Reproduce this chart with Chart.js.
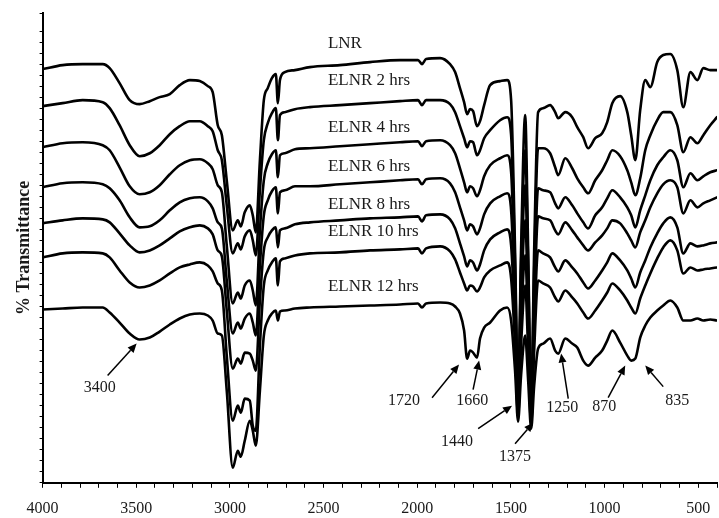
<!DOCTYPE html>
<html>
<head>
<meta charset="utf-8">
<script src="https://cdn.jsdelivr.net/npm/chart.js@4.4.1/dist/chart.umd.min.js"></script>
<style>
  html, body { margin: 0; padding: 0; background: #fff; }
  #wrap { width: 719px; height: 518px; }
</style>
</head>
<body>
<div id="wrap"><canvas id="ftirChart" width="719" height="518"></canvas></div>
<script>
// Wavenumbers (cm-1) shared by all spectra
const wavenumbers = [
  4000, 3893, 3786, 3679, 3642, 3589, 3535, 3482, 3428, 3375,
  3321, 3268, 3214, 3161, 3118, 3092, 3065, 3043, 3017, 2985,
  2958, 2942, 2921, 2894, 2878, 2862, 2840, 2819, 2798, 2776,
  2755, 2744, 2733, 2707, 2653, 2573, 2413, 2252, 2092, 1996,
  1975, 1953, 1878, 1825, 1798, 1772, 1750, 1734, 1718, 1702,
  1681, 1665, 1643, 1611, 1558, 1520, 1499, 1478, 1462, 1446,
  1424, 1408, 1392, 1376, 1355, 1328, 1291, 1264, 1248, 1210,
  1173, 1146, 1114, 1088, 1050, 1013, 986, 959, 917, 879,
  858, 836, 810, 783, 756, 719, 687, 649, 612, 580,
  542, 505, 473, 436, 400
];

// % transmittance (arbitrary offset units), one list per sample
const lnr = [
  41.3, 41.7, 41.8, 41.8, 41.4, 39.9, 38.2, 37.8, 38.1, 38.5,
  38.8, 39.7, 40.2, 40.1, 39.6, 39.0, 35.7, 34.7, 30.2, 25.2,
  26.2, 25.6, 27.0, 27.7, 26.7, 25.0, 32.2, 38.2, 39.4, 40.4,
  40.8, 37.9, 40.2, 41.0, 41.2, 41.5, 41.7, 42.0, 42.2, 42.2,
  41.8, 42.3, 42.4, 41.8, 41.0, 39.4, 38.0, 36.8, 37.3, 37.1,
  35.6, 36.1, 37.7, 39.7, 40.1, 40.2, 38.2, 23.2, 8.7, 23.2,
  36.7, 23.2, 7.7, 23.2, 37.0, 37.4, 37.7, 37.0, 36.4, 37.0,
  36.5, 35.5, 34.5, 33.4, 34.4, 34.9, 36.0, 37.9, 38.6, 37.0,
  34.7, 32.2, 37.2, 40.2, 39.5, 42.0, 42.7, 42.8, 41.2, 37.5,
  41.0, 40.2, 41.4, 41.2, 41.2
];
const elnr2 = [
  37.6, 37.9, 38.2, 38.0, 37.4, 35.7, 33.7, 32.6, 32.9, 33.7,
  34.8, 35.6, 36.1, 36.1, 35.6, 35.1, 33.2, 32.2, 27.7, 22.9,
  23.9, 23.3, 24.6, 25.2, 24.2, 22.7, 29.2, 34.2, 35.9, 36.9,
  37.4, 34.2, 36.7, 37.0, 37.3, 37.5, 37.7, 37.9, 38.1, 38.2,
  37.7, 38.2, 38.2, 37.8, 37.0, 35.6, 34.4, 33.5, 34.1, 34.0,
  32.7, 33.2, 34.4, 35.2, 36.2, 36.5, 34.7, 21.7, 8.2, 21.7,
  33.2, 21.7, 7.2, 21.2, 33.4, 33.4, 32.9, 31.5, 30.7, 32.4,
  31.4, 30.4, 29.5, 28.9, 30.2, 31.2, 32.2, 33.2, 32.6, 31.2,
  30.0, 28.7, 30.4, 33.2, 34.7, 36.2, 37.0, 37.0, 35.7, 33.0,
  34.5, 33.9, 34.7, 35.7, 36.5
];
const elnr4 = [
  33.5, 33.9, 34.0, 33.7, 33.2, 31.5, 29.6, 28.8, 29.0, 29.7,
  30.8, 31.7, 32.2, 32.3, 31.9, 31.3, 29.7, 29.0, 23.7, 17.9,
  19.0, 18.4, 19.7, 20.2, 19.2, 17.7, 25.2, 30.2, 31.9, 32.8,
  33.2, 30.5, 32.7, 32.9, 33.3, 33.4, 33.6, 33.8, 34.0, 34.1,
  33.6, 34.1, 34.2, 33.7, 32.9, 31.4, 30.0, 29.0, 29.6, 29.4,
  28.6, 29.2, 30.6, 31.7, 32.4, 32.7, 31.0, 19.7, 7.7, 19.7,
  29.7, 19.2, 6.8, 18.7, 29.4, 29.2, 29.0, 27.9, 27.4, 28.5,
  27.7, 26.9, 26.0, 25.4, 26.7, 27.5, 28.4, 29.2, 28.5, 27.5,
  26.7, 25.5, 27.2, 28.7, 30.2, 31.7, 32.5, 33.2, 32.2, 29.5,
  30.9, 30.2, 30.6, 31.0, 31.2
];
const elnr6 = [
  29.5, 29.9, 30.0, 29.8, 29.4, 28.2, 26.5, 25.5, 25.6, 26.2,
  27.2, 28.0, 28.4, 28.5, 28.1, 27.4, 26.0, 25.4, 20.2, 14.9,
  16.0, 15.4, 16.4, 16.9, 16.0, 14.7, 21.7, 26.7, 28.2, 29.1,
  29.5, 26.9, 29.0, 29.2, 29.6, 29.6, 29.8, 30.0, 30.2, 30.3,
  29.8, 30.3, 30.4, 29.9, 29.0, 27.5, 26.2, 25.2, 25.8, 25.6,
  24.8, 25.4, 26.8, 27.9, 28.6, 28.9, 27.2, 17.7, 7.4, 17.7,
  26.2, 17.2, 6.4, 17.2, 26.6, 26.4, 26.2, 25.2, 24.8, 26.0,
  25.2, 24.5, 23.7, 23.2, 24.0, 24.7, 25.4, 26.2, 25.9, 24.9,
  24.2, 23.5, 25.0, 26.2, 27.5, 28.9, 29.8, 30.2, 29.5, 26.9,
  28.2, 27.5, 27.9, 28.2, 28.5
];
const elnr8 = [
  25.9, 26.2, 26.4, 26.3, 26.0, 24.9, 23.7, 23.0, 23.2, 23.7,
  24.4, 25.1, 25.5, 25.7, 25.4, 24.8, 23.2, 22.6, 17.2, 11.4,
  12.4, 11.9, 13.0, 12.9, 12.2, 11.2, 18.2, 23.2, 24.5, 25.2,
  25.5, 23.5, 25.2, 25.4, 25.8, 26.0, 26.2, 26.4, 26.5, 26.6,
  26.1, 26.7, 26.8, 26.3, 25.4, 23.9, 22.6, 21.6, 22.2, 22.0,
  21.2, 21.8, 23.2, 24.3, 25.0, 25.3, 23.7, 15.7, 7.0, 15.7,
  22.7, 15.2, 6.1, 15.2, 23.2, 22.9, 22.5, 21.5, 21.1, 22.2,
  21.5, 20.9, 20.0, 19.4, 20.2, 21.2, 22.0, 22.9, 22.2, 21.2,
  20.4, 19.5, 21.0, 22.2, 23.5, 24.9, 25.9, 26.5, 25.5, 22.9,
  23.9, 23.6, 23.7, 23.9, 24.0
];
const elnr10 = [
  22.5, 22.9, 23.0, 22.9, 22.5, 21.2, 20.0, 19.5, 19.7, 20.2,
  20.9, 21.5, 21.8, 22.0, 21.7, 21.1, 19.9, 19.2, 12.7, 6.2,
  7.7, 7.0, 8.4, 8.2, 5.7, 5.2, 13.7, 19.7, 21.2, 22.0,
  22.4, 19.7, 22.1, 22.4, 22.7, 22.9, 23.0, 23.2, 23.3, 23.4,
  22.9, 23.4, 23.6, 23.1, 22.3, 21.0, 19.9, 19.2, 19.7, 19.6,
  19.1, 19.5, 20.5, 21.2, 21.7, 22.0, 20.4, 13.7, 6.6, 13.7,
  19.7, 13.2, 5.8, 13.2, 20.2, 19.9, 19.5, 18.5, 18.1, 19.2,
  18.5, 17.9, 17.0, 16.4, 17.2, 18.2, 19.0, 19.9, 19.2, 18.2,
  17.5, 16.9, 18.4, 19.7, 20.9, 22.4, 23.5, 24.2, 23.2, 20.9,
  21.5, 21.2, 21.3, 21.4, 21.5
];
const elnr12 = [
  17.3, 17.4, 17.5, 17.5, 17.0, 16.0, 14.9, 14.3, 14.5, 15.1,
  15.8, 16.4, 16.8, 16.9, 16.7, 16.2, 14.9, 14.7, 9.2, 1.5,
  3.2, 2.6, 4.2, 6.2, 5.2, 3.7, 9.2, 14.7, 16.2, 16.9,
  17.2, 16.2, 17.1, 17.2, 17.4, 17.5, 17.6, 17.7, 17.8, 17.9,
  17.5, 17.9, 18.0, 17.9, 17.6, 16.9, 15.2, 12.4, 13.2, 13.0,
  12.5, 14.4, 15.5, 16.0, 17.2, 17.5, 16.2, 11.2, 6.1, 10.7,
  14.7, 10.2, 5.4, 9.7, 13.4, 13.9, 14.4, 13.2, 12.9, 14.4,
  13.9, 13.5, 12.2, 11.7, 12.5, 13.2, 14.2, 15.2, 14.0, 12.7,
  12.2, 12.4, 14.5, 15.7, 16.5, 17.2, 17.7, 18.2, 17.5, 16.2,
  16.2, 16.4, 16.2, 16.3, 16.2
];

// Curve names, placed in data units (left edge wavenumber, height)
const curveNames = ["LNR", "ELNR 2 hrs", "ELNR 4 hrs", "ELNR 6 hrs", "ELNR 8 hrs", "ELNR 10 hrs", "ELNR 12 hrs"];
const curveNameY = [43.9, 40.2, 35.5, 31.6, 27.8, 25.1, 19.6];
const curveNameX = 2477;

// Peak labels and arrows (data units)
const peakLabels = ["3400", "1720", "1660", "1440", "1375", "1250", "870", "835"];
const peakLabelX = [3695, 2071, 1707, 1788, 1478, 1226, 1002, 612];
const peakLabelY = [9.5, 8.2, 8.2, 4.1, 2.6, 7.5, 7.6, 8.2];
const arrowFromX = [3653, 1921, 1702, 1675, 1478, 1194, 981, 687];
const arrowFromY = [10.7, 8.5, 9.3, 5.4, 3.9, 8.4, 8.5, 9.6];
const arrowToX = [3498, 1777, 1670, 1494, 1381, 1232, 890, 783];
const arrowToY = [13.9, 11.8, 12.2, 7.7, 6.0, 12.9, 11.7, 11.7];

const serif = "'Liberation Serif', 'Times New Roman', serif";
const allSeries = [lnr, elnr2, elnr4, elnr6, elnr8, elnr10, elnr12];

const datasets = allSeries.map((s, k) => ({
  label: curveNames[k],
  data: wavenumbers.map((w, i) => ({ x: w, y: s[i] })),
  borderColor: "#000",
  borderWidth: 2.6,
  pointRadius: 0,
  fill: false,
  cubicInterpolationMode: "monotone",
  borderJoinStyle: "round",
  borderCapStyle: "round"
}));

// Draws curve names, peak labels and arrows
const labelPlugin = {
  id: "labels",
  afterDatasetsDraw(chart) {
    const { ctx, scales: { x, y } } = chart;
    ctx.save();
    ctx.fillStyle = "#1a1a1a";
    ctx.textBaseline = "middle";

    ctx.font = "17px " + serif;
    ctx.textAlign = "left";
    curveNames.forEach((n, i) => {
      ctx.fillText(n, x.getPixelForValue(curveNameX), y.getPixelForValue(curveNameY[i]));
    });

    ctx.font = "16px " + serif;
    ctx.textAlign = "center";
    peakLabels.forEach((n, i) => {
      ctx.fillText(n, x.getPixelForValue(peakLabelX[i]), y.getPixelForValue(peakLabelY[i]));
    });

    ctx.strokeStyle = "#000";
    ctx.fillStyle = "#000";
    ctx.lineWidth = 1.5;
    peakLabels.forEach((n, i) => {
      const x0 = x.getPixelForValue(arrowFromX[i]), y0 = y.getPixelForValue(arrowFromY[i]);
      const x1 = x.getPixelForValue(arrowToX[i]), y1 = y.getPixelForValue(arrowToY[i]);
      const a = Math.atan2(y1 - y0, x1 - x0);
      const hl = 9, hw = 4;
      const bx = x1 - hl * Math.cos(a), by = y1 - hl * Math.sin(a);
      ctx.beginPath();
      ctx.moveTo(x0, y0);
      ctx.lineTo(bx, by);
      ctx.stroke();
      ctx.beginPath();
      ctx.moveTo(x1, y1);
      ctx.lineTo(bx + hw * Math.sin(a), by - hw * Math.cos(a));
      ctx.lineTo(bx - hw * Math.sin(a), by + hw * Math.cos(a));
      ctx.closePath();
      ctx.fill();
    });
    ctx.restore();
  }
};

new Chart(document.getElementById("ftirChart").getContext("2d"), {
  type: "line",
  data: { datasets },
  options: {
    responsive: false,
    animation: false,
    devicePixelRatio: 1,
    layout: { autoPadding: false, padding: { left: 10, right: 2, top: 13, bottom: -11 } },
    plugins: { legend: { display: false }, tooltip: { enabled: false } },
    scales: {
      x: {
        type: "linear",
        reverse: true,
        min: 400,
        max: 4000,
        // labels sit well inside the canvas, so no extra side padding for them
        afterFit: s => { s.paddingLeft = 0; s.paddingRight = 0; },
        border: { display: true, color: "#000", width: 2 },
        grid: { drawOnChartArea: false, drawTicks: true, tickLength: 5, color: "#000", lineWidth: 1 },
        ticks: {
          stepSize: 100,
          autoSkip: false,
          maxRotation: 0,
          padding: 11,
          color: "#1a1a1a",
          font: { family: serif, size: 16 },
          callback: v => (v % 500 === 0 && v >= 500 ? String(v) : "")
        }
      },
      y: {
        min: 0,
        max: 46.9,
        border: { display: true, color: "#000", width: 2 },
        grid: { drawOnChartArea: false, drawTicks: true, tickLength: 3, color: "#000", lineWidth: 1 },
        ticks: { display: false, stepSize: 1.1 },
        title: {
          display: true,
          text: "% Transmittance",
          color: "#1a1a1a",
          font: { family: serif, size: 18, weight: "bold" }
        }
      }
    }
  },
  plugins: [labelPlugin]
});
</script>
</body>
</html>
